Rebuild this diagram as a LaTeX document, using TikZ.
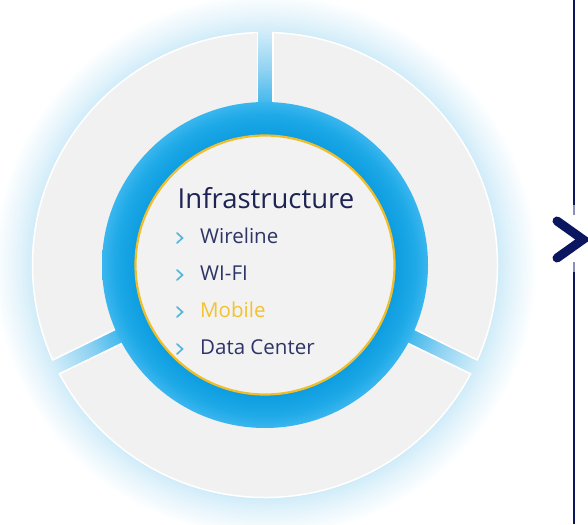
\documentclass[tikz,border=0pt]{standalone}
\usepackage{fontspec}
\setmainfont{Open Sans}
\usetikzlibrary{calc}
\definecolor{gapblue}{HTML}{45B9EC}
\definecolor{gapmid}{HTML}{8FD2F2}
\definecolor{gappale}{HTML}{D0ECF9}
\definecolor{glowpale}{HTML}{E2F3FB}
\definecolor{ringin}{HTML}{0D9DE0}
\definecolor{ringmid}{HTML}{1EA9E7}
\definecolor{ringout}{HTML}{3AB6EE}
\definecolor{titlenavy}{HTML}{1D2352}
\definecolor{itemnavy}{HTML}{2E3566}
\definecolor{mobileyellow}{HTML}{F2C232}
\definecolor{chevblue}{HTML}{55B6DB}
\definecolor{segfill}{HTML}{F1F1F1}
\definecolor{innerfill}{HTML}{F2F2F2}
\definecolor{ringyellow}{HTML}{F0BE2B}
\definecolor{navy}{HTML}{0A1760}
\definecolor{navylight}{HTML}{8A90B8}
\pgfdeclareradialshading{glowshade}{\pgfpoint{0bp}{0bp}}{%
  color(0bp)=(gapblue); color(15bp)=(gapblue); color(17.9bp)=(gapmid);
  color(21.4bp)=(gappale); color(22.6bp)=(glowpale); color(25bp)=(white); color(50bp)=(white)}
\pgfdeclareradialshading{ringshade}{\pgfpoint{0bp}{0bp}}{%
  color(0bp)=(ringin); color(19.9bp)=(ringin); color(23bp)=(ringmid);
  color(25bp)=(ringout); color(50bp)=(ringout)}
\begin{document}
\begin{tikzpicture}[x=1pt,y=-1pt,
  chev/.style={draw=chevblue,line width=1.7pt,line cap=round,line join=miter},
  itemtext/.style={anchor=base west,inner sep=0pt,text=itemnavy,font=\fontsize{20.5}{23}\selectfont},
  titletext/.style={anchor=base,inner sep=0pt,text=titlenavy,font=\fontsize{27.5}{31}\selectfont},
  vline/.style={draw=navy,line width=2pt},
  vlinelight/.style={draw=navylight,line width=2pt}]
\useasboundingbox[fill=white] (0,0) rectangle (588,524);
\coordinate (C) at (265,265);
% glow and gap colour
\shade[shading=glowshade] (C) circle (272pt);
% grey ring
\fill[segfill] (C) circle (233pt);
\draw[white,line width=1.5pt] (C) circle (232.5pt);
% gaps between the three segments
\foreach \a in {-90,26,154}{
  \draw[white,line width=17pt] ($(C)+(\a:163)$) -- ($(C)+(\a:232)$);
  \begin{scope}
    \clip ($(C)+(\a:150)+(\a+90:6.8)$) -- ($(C)+(\a:245)+(\a+90:6.8)$)
       -- ($(C)+(\a:245)+(\a-90:6.8)$) -- ($(C)+(\a:150)+(\a-90:6.8)$) -- cycle;
    \shade[shading=glowshade] (C) circle (272pt);
  \end{scope}
}
% blue ring and inner disk
\shade[shading=ringshade] (C) circle (163pt);
\fill[innerfill] (C) circle (130pt);
\draw[ringyellow,line width=2.2pt] (C) circle (129.5pt);
% texts
\node[titletext] (title) at (266,208) {Infrastructure};
\node[itemtext] (i1) at (200,243) {Wireline};
\node[itemtext] (i2) at (200,280) {WI-FI};
\node[itemtext,text=mobileyellow] (i3) at (200,317) {Mobile};
\node[itemtext] (i4) at (200,354) {Data Center};
\foreach \n in {i1,i2,i3,i4}{
  \draw[chev] ($(\n.base west)+(-23,-10)$) -- ++(5.5,5) -- ++(-5.5,5);
}
% right-hand line and chevron
\coordinate (Ltop) at (574,0);
\coordinate (L1) at (574,205);
\coordinate (L2) at (574,215);
\coordinate (L3) at (574,262);
\coordinate (L4) at (574,272);
\coordinate (Lbot) at (574,524);
\draw[vline] (Ltop) -- (L1);
\draw[vlinelight] (L1) -- (L2);
\draw[vlinelight] (L3) -- (L4);
\draw[vline] (L4) -- (Lbot);
\coordinate (A1) at (557,221);
\coordinate (A2) at (583,239.5);
\coordinate (A3) at (557,258);
\draw[navy,line width=9pt,line cap=round,line join=miter] (A1) -- (A2) -- (A3);
\end{tikzpicture}
\end{document}
